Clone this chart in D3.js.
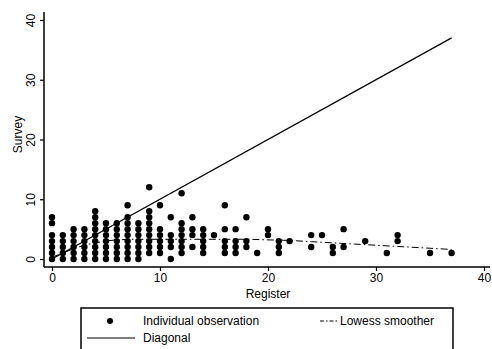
<!DOCTYPE html>
<html>
<head>
<meta charset="utf-8">
<script src="https://cdn.jsdelivr.net/npm/d3@7"></script>
<style>
  body { margin: 0; background: #fff; }
  svg text { font-family: "Liberation Sans", Arial, sans-serif; fill: #000; }
</style>
</head>
<body>
<svg id="chart" width="492" height="349"></svg>
<script>
const width = 492;
const height = 349;

// register value (x) and the survey values observed at that x
const registerValues = [0, 1, 2, 3, 4, 5, 6, 7, 8, 9, 10, 11, 12, 13, 14, 15, 16, 17, 18, 19,
    20, 21, 22, 24, 25, 26, 27, 29, 31, 32, 35, 37];
const surveyValues = [
    [0, 1, 2, 3, 4, 6, 7],
    [0, 1, 2, 3, 4],
    [0, 1, 2, 3, 4, 5],
    [0, 1, 2, 3, 4, 5],
    [0, 1, 2, 3, 4, 5, 6, 7, 8],
    [0, 1, 2, 3, 4, 5, 6],
    [0, 1, 2, 3, 4, 5, 6],
    [0, 1, 2, 3, 4, 5, 6, 7, 9],
    [0, 1, 2, 3, 4, 5, 6],
    [1, 2, 3, 4, 5, 6, 7, 8, 12],
    [1, 2, 3, 4, 5, 9],
    [0, 2, 3, 4, 7],
    [1, 2, 3, 4, 5, 6, 11],
    [2, 4, 5, 7],
    [1, 2, 3, 4, 5],
    [4],
    [1, 2, 3, 5, 9],
    [1, 2, 3, 5],
    [2, 3, 7],
    [1],
    [4, 5],
    [1, 2, 3],
    [3],
    [2, 4],
    [4],
    [1, 2],
    [2, 5],
    [3],
    [1],
    [3, 4],
    [1],
    [1]
];

// lowess smoother
const lowessX = [0, 1, 2, 3, 4, 5, 6, 8, 10, 12, 14, 16, 18, 20, 22, 24, 26, 28, 30, 32, 34, 37];
const lowessY = [0.3, 1.0, 1.7, 2.3, 2.7, 3.0, 3.2, 3.3, 3.3, 3.3, 3.3, 3.3, 3.3, 3.2, 3.1, 2.9, 2.7, 2.5, 2.3, 2.1, 1.9, 1.6];

// diagonal
const diagonal = [0, 37];

const xTicks = [0, 10, 20, 30, 40];
const yTicks = [0, 10, 20, 30, 40];

const svg = d3.select("#chart");

const x = d3.scaleLinear().domain([0, 40]).range([52, 484]);
const y = d3.scaleLinear().domain([0, 40]).range([259, 20]);

const axisY = 267;
const axisX = 44;

// axis lines
svg.append("line")
    .attr("x1", axisX).attr("x2", 490)
    .attr("y1", axisY).attr("y2", axisY)
    .attr("stroke", "#000").attr("stroke-width", 1.5);
svg.append("line")
    .attr("x1", axisX).attr("x2", axisX)
    .attr("y1", 12).attr("y2", axisY)
    .attr("stroke", "#000").attr("stroke-width", 1.5);

// x axis
const gx = svg.append("g")
    .attr("transform", `translate(0,${axisY})`)
    .call(d3.axisBottom(x).tickValues(xTicks).tickSize(4).tickSizeOuter(0).tickPadding(2));
gx.select(".domain").remove();
gx.selectAll("text").attr("font-size", 12).attr("font-family", "Liberation Sans, Arial, sans-serif");
gx.selectAll("line").attr("stroke-width", 1.2);

// y axis
const gy = svg.append("g")
    .attr("transform", `translate(${axisX},0)`)
    .call(d3.axisLeft(y).tickValues(yTicks).tickSize(4).tickSizeOuter(0));
gy.select(".domain").remove();
gy.selectAll("line").attr("stroke-width", 1.2);
gy.selectAll("text")
    .attr("font-size", 12)
    .attr("font-family", "Liberation Sans, Arial, sans-serif")
    .attr("text-anchor", "middle")
    .attr("x", 0).attr("dy", 0)
    .attr("transform", "translate(-9,0) rotate(-90)");

// axis titles
svg.append("text")
    .attr("x", x(20)).attr("y", 298)
    .attr("text-anchor", "middle")
    .attr("font-size", 12)
    .text("Register");
svg.append("text")
    .attr("transform", `translate(22,${y(20) - 5}) rotate(-90)`)
    .attr("text-anchor", "middle")
    .attr("font-size", 12)
    .text("Survey");

// points
const points = registerValues.flatMap((r, i) => surveyValues[i].map(s => ({ r, s })));
svg.append("g")
    .selectAll("circle")
    .data(points)
    .join("circle")
    .attr("cx", d => x(d.r))
    .attr("cy", d => y(d.s))
    .attr("r", 3.2)
    .attr("fill", "#000");

// diagonal
const line = d3.line().x(d => x(d[0])).y(d => y(d[1]));
svg.append("path")
    .datum(diagonal.map(v => [v, v]))
    .attr("d", line)
    .attr("fill", "none")
    .attr("stroke", "#000")
    .attr("stroke-width", 1.3);

// lowess
svg.append("path")
    .datum(lowessX.map((v, i) => [v, lowessY[i]]))
    .attr("d", line.curve(d3.curveMonotoneX))
    .attr("fill", "none")
    .attr("stroke", "#000")
    .attr("stroke-width", 1)
    .attr("stroke-dasharray", "7,3,1.5,3");

// legend
const legend = svg.append("g");
legend.append("rect")
    .attr("x", 81).attr("y", 308)
    .attr("width", 372).attr("height", 60)
    .attr("fill", "none")
    .attr("stroke", "#000")
    .attr("stroke-width", 1.5);
legend.append("circle")
    .attr("cx", 110).attr("cy", 321).attr("r", 3)
    .attr("fill", "#000");
legend.append("text")
    .attr("x", 143).attr("y", 325)
    .attr("font-size", 12)
    .text("Individual observation");
legend.append("line")
    .attr("x1", 87).attr("x2", 135)
    .attr("y1", 338).attr("y2", 338)
    .attr("stroke", "#000").attr("stroke-width", 1);
legend.append("text")
    .attr("x", 143).attr("y", 342)
    .attr("font-size", 12)
    .text("Diagonal");
legend.append("line")
    .attr("x1", 320).attr("x2", 337)
    .attr("y1", 321).attr("y2", 321)
    .attr("stroke", "#000").attr("stroke-width", 1)
    .attr("stroke-dasharray", "4,2,1.5,2");
legend.append("text")
    .attr("x", 340).attr("y", 325)
    .attr("font-size", 12)
    .text("Lowess smoother");
</script>
</body>
</html>
